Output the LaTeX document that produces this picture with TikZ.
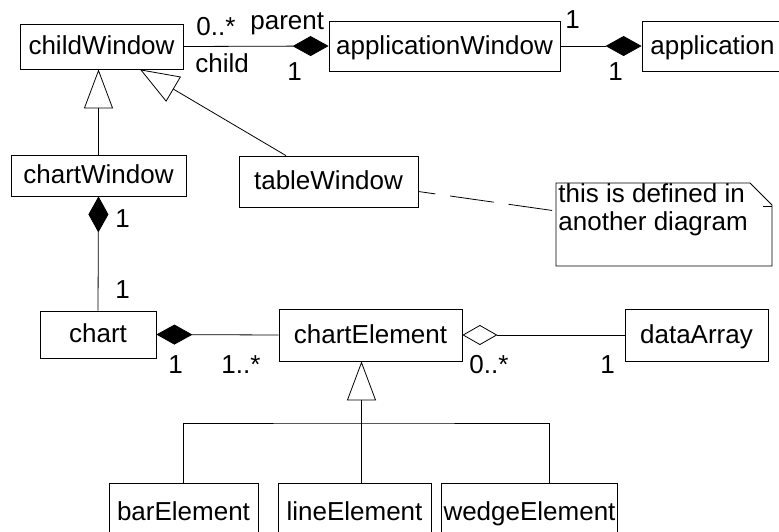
\documentclass[tikz,border=0pt]{standalone}
\usepackage{fontspec}
\setmainfont{Liberation Sans}
\usetikzlibrary{arrows.meta}
\newcommand\umlfont{\fontsize{26pt}{28pt}\selectfont}
\tikzset{
  class/.style={draw, inner sep=2pt, text height=18.7pt, text depth=2.6pt, font=\umlfont},
  mult/.style={inner sep=0pt, anchor=base west, font=\umlfont},
  composition/.style={-{Diamond[length=36pt,width=20pt]}},
  aggregation/.style={-{Diamond[open,length=35pt,width=20pt]}},
  generalization/.style={-{Triangle[open,length=39pt,width=29pt]}},
  noteline/.style={dash pattern=on 44pt off 15pt, dash phase=27pt}
}
\begin{document}
\begin{tikzpicture}[x=1pt,y=-1pt,line width=0.8pt]
  \useasboundingbox (0,0) rectangle (779,531);
  \clip (0,0) rectangle (779,531);

  \node[class, minimum width=163pt, minimum height=45pt] (childWindow) at (101.5,46.5) {childWindow};
  \node[class, minimum width=231pt, minimum height=50pt] (applicationWindow) at (444.5,46) {applicationWindow};
  \node[class, minimum width=141pt, minimum height=50pt] (application) at (712.5,46) {application};
  \node[class, minimum width=175pt, minimum height=41pt] (chartWindow) at (98.5,175.5) {chartWindow};
  \node[class, minimum width=179pt, minimum height=51pt] (tableWindow) at (328.5,181.5) {tableWindow};
  \node[class, minimum width=116pt, minimum height=47pt] (chart) at (98,334.5) {chart};
  \node[class, minimum width=183pt, minimum height=52pt] (chartElement) at (370.5,335) {chartElement};
  \node[class, minimum width=143pt, minimum height=52pt] (dataArray) at (696.5,335) {dataArray};
  \node[class, minimum width=149pt, minimum height=58pt] (barElement) at (183.5,512) {barElement};
  \node[class, minimum width=153pt, minimum height=58pt] (lineElement) at (354.5,512) {lineElement};
  \node[class, minimum width=153pt, minimum height=58pt] (wedgeElement) at (529.5,512) {wedgeElement};

  % note
  \coordinate (noteNW) at (556,183);
  \coordinate (noteW) at (556,211);
  \draw (noteNW) -- (750,183) -- (772,205) -- (772,266) -- (556,266) -- cycle;
  \draw (763,206) -- (772,206);
  \node[mult, anchor=north west, align=left] (noteText) at (558,183) {this is defined in\\another diagram};
  \draw[noteline] ([yshift=-10pt]tableWindow.east) -- (noteW);

  % associations
  \draw[composition] (childWindow.east) -- (applicationWindow.west);
  \draw[composition] (applicationWindow.east) -- (application.west);
  \draw[composition] (chart.north) -- (chartWindow.south);
  \draw[composition] (chartElement.west) -- (chart.east);
  \draw[aggregation] (dataArray.west) -- (chartElement.east);

  % inheritance
  \draw[generalization] (chartWindow.north) -- (chartWindow.north |- childWindow.south);
  \draw[generalization] ([xshift=-42.5pt]tableWindow.north) -- ([xshift=38.5pt]childWindow.south);
  \coordinate (tri) at ([xshift=-9pt]chartElement.south);
  \coordinate (fork) at (361.5,423);
  \draw (barElement.north) |- (fork) -| ([xshift=19.5pt]wedgeElement.north);
  \draw[generalization] (lineElement.north -| tri) -- (tri);

  % multiplicities and roles
  \node[mult] (m1) at (196,35) {0..*};
  \node[mult] (r1) at (250,29) {parent};
  \node[mult] (r2) at (195,72) {child};
  \node[mult] (m2) at (287,80) {1};
  \node[mult] (m3) at (565,28) {1};
  \node[mult] (m4) at (608,80) {1};
  \node[mult] (m5) at (115,227) {1};
  \node[mult] (m6) at (115,298) {1};
  \node[mult] (m7) at (168,373) {1};
  \node[mult] (m8) at (221,373) {1..*};
  \node[mult] (m9) at (469,373) {0..*};
  \node[mult] (m10) at (600,373) {1};
\end{tikzpicture}
\end{document}
